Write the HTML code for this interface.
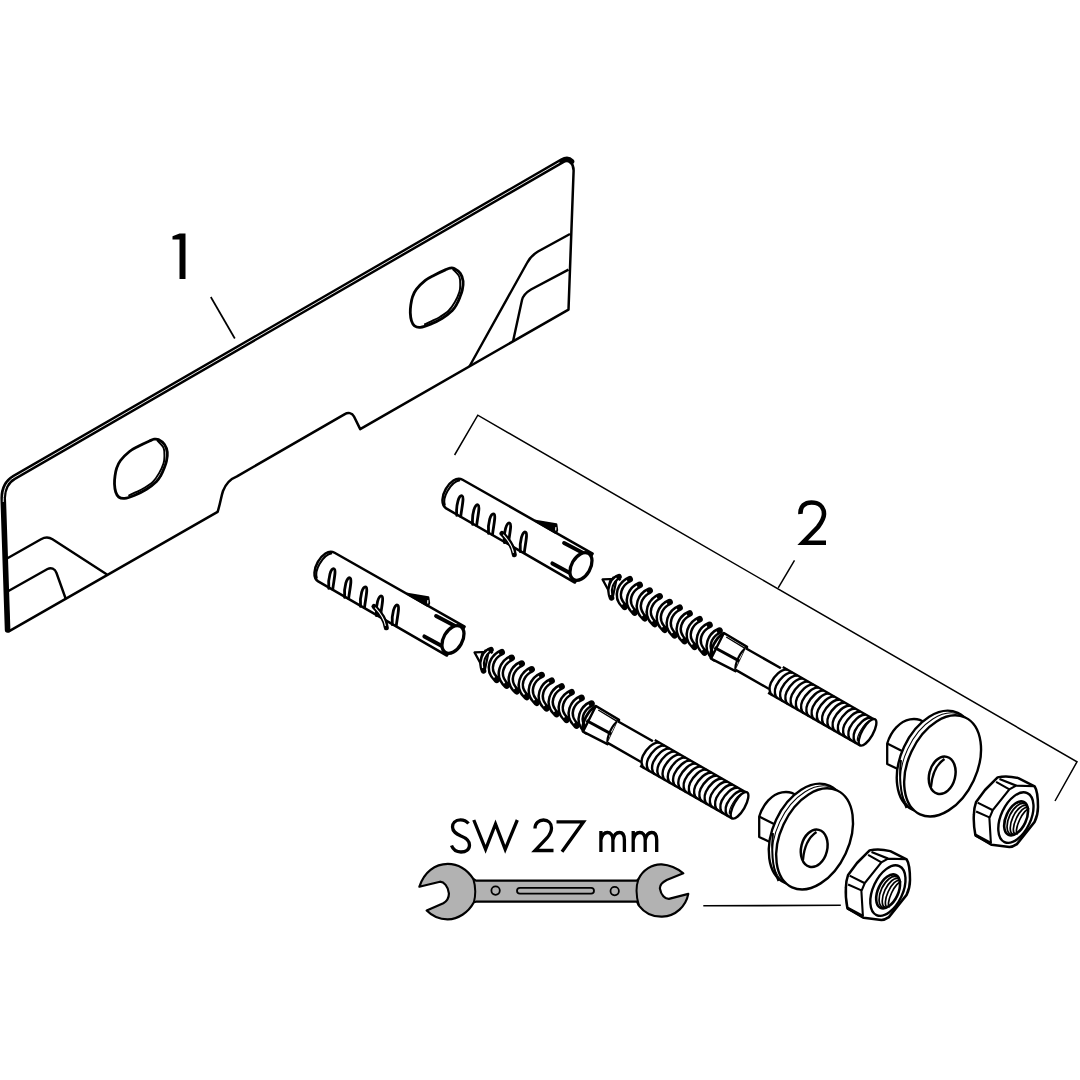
<!DOCTYPE html><html><head><meta charset="utf-8"><style>html,body{margin:0;padding:0;background:#fff;}svg{display:block;}</style></head><body><svg width="1080" height="1080" viewBox="0 0 1080 1080"><path d="M8.8,631.3 L217.6,511.9 C220.5,503 221,497 223,491 C226,483 230,479 237,476.3 L344.4,414.3 C348,412.2 352,412.5 354,416.5 L360.2,429.1 L568.5,309.6 L573.6,171 C573.8,164 569.5,158.8 563.5,159.6 L14,477 C6.5,481.5 2.5,489 2.5,497.5 Z" fill="#fff" stroke="#000" stroke-width="2.5" stroke-linejoin="round"/><path d="M7.6,630 L3.2,498 C3.2,489 6.5,482 14,477.5 L562,161 C565.5,159 569,159 571.5,161.5" fill="none" stroke="#000" stroke-width="5.6" stroke-linecap="round"/><path d="M3.25,502 C3.2,489 6.5,482 14,477.5 L559.5,162.4" fill="none" stroke="#fff" stroke-width="0.9"/><path d="M7,558.5 L41,539.2 C44.5,537.3 49,537 52.5,539.3 L107,574.5" fill="none" stroke="#000" stroke-width="2.4"/><path d="M8,591.3 L47.5,569 C51,567.2 55,568.5 56.5,573 L65.8,599" fill="none" stroke="#000" stroke-width="2.4"/><path d="M570,234 L538,251.5 C533,254.5 529.5,258 527,263 L469.4,366.5" fill="none" stroke="#000" stroke-width="2.4"/><path d="M568.5,269.6 L531,289.5 C526,292.5 523,296 522,300 L513,341.5" fill="none" stroke="#000" stroke-width="2.4"/><g transform="translate(141,469)"><path d="M17.4,-29.4 C19.12,-28.52 22.02,-26.6 23.5,-24.5 C24.98,-22.4 25.97,-19.55 26.3,-16.8 C26.63,-14.05 26.05,-10.72 25.5,-8 C24.95,-5.28 23.95,-2.92 23,-0.5 C22.05,1.92 21.05,4.33 19.8,6.5 C18.55,8.67 17.88,10.2 15.5,12.5 C13.12,14.8 9.13,18.02 5.5,20.3 C1.87,22.58 -2.63,24.68 -6.3,26.2 C-9.97,27.72 -13.83,29.1 -16.5,29.4 C-19.17,29.7 -20.83,29.07 -22.3,28 C-23.77,26.93 -24.6,25.17 -25.3,23 C-26,20.83 -26.38,17.67 -26.5,15 C-26.62,12.33 -26.37,9.67 -26,7 C-25.63,4.33 -25.22,1.58 -24.3,-1 C-23.38,-3.58 -22.63,-5.75 -20.5,-8.5 C-18.37,-11.25 -14.48,-15.13 -11.5,-17.5 C-8.52,-19.87 -5.93,-20.95 -2.6,-22.7 C0.73,-24.45 5.87,-26.82 8.5,-28 C11.13,-29.18 11.72,-29.57 13.2,-29.8 C14.68,-30.03 15.68,-30.28 17.4,-29.4 Z" fill="none" stroke="#000" stroke-width="2.8"/><path d="M16.46,-28.32 C17.47,-27.12 21.41,-23.78 22.56,-21.12 C23.72,-18.45 23.39,-14.92 23.39,-12.36 C23.39,-9.8 23.44,-8.51 22.56,-5.77 C21.68,-3.02 19.91,1.01 18.11,4.12 C16.32,7.23 14.3,10.39 11.8,12.88 C9.3,15.36 5.92,17.34 3.1,19.05 C0.29,20.77 -2.57,21.97 -5.07,23.18 C-7.57,24.38 -10.76,25.75 -11.9,26.27" fill="none" stroke="#000" stroke-width="1.9" stroke-linecap="round"/></g><g transform="translate(436.8,297.9)"><path d="M17.4,-29.4 C19.12,-28.52 22.02,-26.6 23.5,-24.5 C24.98,-22.4 25.97,-19.55 26.3,-16.8 C26.63,-14.05 26.05,-10.72 25.5,-8 C24.95,-5.28 23.95,-2.92 23,-0.5 C22.05,1.92 21.05,4.33 19.8,6.5 C18.55,8.67 17.88,10.2 15.5,12.5 C13.12,14.8 9.13,18.02 5.5,20.3 C1.87,22.58 -2.63,24.68 -6.3,26.2 C-9.97,27.72 -13.83,29.1 -16.5,29.4 C-19.17,29.7 -20.83,29.07 -22.3,28 C-23.77,26.93 -24.6,25.17 -25.3,23 C-26,20.83 -26.38,17.67 -26.5,15 C-26.62,12.33 -26.37,9.67 -26,7 C-25.63,4.33 -25.22,1.58 -24.3,-1 C-23.38,-3.58 -22.63,-5.75 -20.5,-8.5 C-18.37,-11.25 -14.48,-15.13 -11.5,-17.5 C-8.52,-19.87 -5.93,-20.95 -2.6,-22.7 C0.73,-24.45 5.87,-26.82 8.5,-28 C11.13,-29.18 11.72,-29.57 13.2,-29.8 C14.68,-30.03 15.68,-30.28 17.4,-29.4 Z" fill="none" stroke="#000" stroke-width="2.8"/><path d="M16.46,-28.32 C17.47,-27.12 21.41,-23.78 22.56,-21.12 C23.72,-18.45 23.39,-14.92 23.39,-12.36 C23.39,-9.8 23.44,-8.51 22.56,-5.77 C21.68,-3.02 19.91,1.01 18.11,4.12 C16.32,7.23 14.3,10.39 11.8,12.88 C9.3,15.36 5.92,17.34 3.1,19.05 C0.29,20.77 -2.57,21.97 -5.07,23.18 C-7.57,24.38 -10.76,25.75 -11.9,26.27" fill="none" stroke="#000" stroke-width="1.9" stroke-linecap="round"/></g><path d="M210.8,297 L234.8,338.5" stroke="#000" stroke-width="1.7" fill="none"/><path d="M172.5,236.3 L179.5,233.6 L185.5,233.6 L185.5,279 L179.5,279 L179.5,239.6 L172.5,239.6 Z" fill="#000"/><path d="M800.5,514 C800,506 805,502.5 811.5,502.5 C818,502.5 824,506 824,514 C824,519 821,523 818,527 L802.8,542.7 L826,542.7" fill="none" stroke="#000" stroke-width="4.6" stroke-linejoin="miter"/><path d="M454.6,455 L477.8,415.2 L1077,761.8 L1055,801" fill="none" stroke="#000" stroke-width="1.5"/><path d="M778.2,587.8 L794.5,560.3" fill="none" stroke="#000" stroke-width="1.5"/><path d="M703.3,905.8 L840.8,905.3" fill="none" stroke="#000" stroke-width="1.6"/><g transform="translate(-128,73)"><g transform="translate(580.3,567) rotate(29.8)"><path d="M-145.5,-17.2 L4,-17.8 L3,16.2 L-145.5,15.8 C-152.5,15.5 -155.5,6 -155.5,-1 C-155.5,-9 -152.5,-17 -145.5,-17.2 Z" fill="#fff" stroke="#000" stroke-width="2.5" stroke-linejoin="round"/><path d="M-147.5,-15.5 C-152,-12 -153,-4 -153,0 C-153,5 -151.5,11 -148,14" fill="none" stroke="#000" stroke-width="2"/><path d="M-132.9,16.5 C-138.9,8 -141.4,-3 -137.9,-3 C-135.4,-3 -132.9,6 -128.9,15.5" fill="none" stroke="#000" stroke-width="2.8" stroke-linecap="round"/><path d="M-114.6,16.5 C-120.6,8 -123.1,-3 -119.6,-3 C-117.1,-3 -114.6,6 -110.6,15.5" fill="none" stroke="#000" stroke-width="2.8" stroke-linecap="round"/><path d="M-96.3,16.5 C-102.3,8 -104.8,-3 -101.3,-3 C-98.8,-3 -96.3,6 -92.3,15.5" fill="none" stroke="#000" stroke-width="2.8" stroke-linecap="round"/><path d="M-78,16.5 C-84,8 -86.5,-3 -83,-3 C-80.5,-3 -78,6 -74,15.5" fill="none" stroke="#000" stroke-width="2.8" stroke-linecap="round"/><path d="M-59.7,16.5 C-65.7,8 -68.2,-3 -64.7,-3 C-62.2,-3 -59.7,6 -55.7,15.5" fill="none" stroke="#000" stroke-width="2.8" stroke-linecap="round"/><path d="M-84.7,9.8 C-76,12 -68,16 -63.3,22.2" fill="none" stroke="#000" stroke-width="5" stroke-linecap="round"/><path d="M-83,10.3 C-76,12.5 -69,16 -65,21" fill="none" stroke="#fff" stroke-width="1.1"/><path d="M-62,-17.8 L-42,-25 L-38.5,-20.5 L-38,-17.5 Z" fill="#000" stroke="#000" stroke-width="2.2" stroke-linejoin="round"/><path d="M-41,-22.5 L-39.5,-19.5" stroke="#fff" stroke-width="1.2"/><path d="M-26,-12.8 L-4,-13.6" stroke="#000" stroke-width="4" stroke-linecap="round"/><path d="M-26,10.8 L-5,10.4" stroke="#000" stroke-width="4" stroke-linecap="round"/><ellipse cx="0.3" cy="-0.8" rx="9.4" ry="15" fill="#fff" stroke="#000" stroke-width="3.3"/></g><g transform="translate(602.5,579.4) rotate(29.8)"><path d="M10,-12 L130,-13 L130,13.5 L12,13 Z" fill="#fff" stroke="none"/><path d="M0,0 L12,-7.5 L18,11 Z" fill="#fff" stroke="#000" stroke-width="2.2" stroke-linejoin="round"/><path d="M6,-4 C11,-4 15,6 18,11 L14,12 C10,8 7,3 6,-4 Z" fill="#000"/><path d="M8,-6 C10,-9 14,-9 16,-8" fill="none" stroke="#000" stroke-width="2.4"/><path d="M23.5,-13.7 C18,-6.5 17,9 32.9,12.7" fill="none" stroke="#000" stroke-width="6.6" stroke-linecap="round"/><path d="M23.5,-13.7 C18,-6.5 17,9 32.9,12.7" fill="none" stroke="#fff" stroke-width="1.6" pathLength="100" stroke-dasharray="0 9 82 9"/><path d="M35,-13.7 C29.5,-6.5 28.5,9 44.4,12.7" fill="none" stroke="#000" stroke-width="6.6" stroke-linecap="round"/><path d="M35,-13.7 C29.5,-6.5 28.5,9 44.4,12.7" fill="none" stroke="#fff" stroke-width="1.6" pathLength="100" stroke-dasharray="0 9 82 9"/><path d="M46.5,-13.7 C41,-6.5 40,9 55.9,12.7" fill="none" stroke="#000" stroke-width="6.6" stroke-linecap="round"/><path d="M46.5,-13.7 C41,-6.5 40,9 55.9,12.7" fill="none" stroke="#fff" stroke-width="1.6" pathLength="100" stroke-dasharray="0 9 82 9"/><path d="M58,-13.7 C52.5,-6.5 51.5,9 67.4,12.7" fill="none" stroke="#000" stroke-width="6.6" stroke-linecap="round"/><path d="M58,-13.7 C52.5,-6.5 51.5,9 67.4,12.7" fill="none" stroke="#fff" stroke-width="1.6" pathLength="100" stroke-dasharray="0 9 82 9"/><path d="M69.5,-13.7 C64,-6.5 63,9 78.9,12.7" fill="none" stroke="#000" stroke-width="6.6" stroke-linecap="round"/><path d="M69.5,-13.7 C64,-6.5 63,9 78.9,12.7" fill="none" stroke="#fff" stroke-width="1.6" pathLength="100" stroke-dasharray="0 9 82 9"/><path d="M81,-13.7 C75.5,-6.5 74.5,9 90.4,12.7" fill="none" stroke="#000" stroke-width="6.6" stroke-linecap="round"/><path d="M81,-13.7 C75.5,-6.5 74.5,9 90.4,12.7" fill="none" stroke="#fff" stroke-width="1.6" pathLength="100" stroke-dasharray="0 9 82 9"/><path d="M92.5,-13.7 C87,-6.5 86,9 101.9,12.7" fill="none" stroke="#000" stroke-width="6.6" stroke-linecap="round"/><path d="M92.5,-13.7 C87,-6.5 86,9 101.9,12.7" fill="none" stroke="#fff" stroke-width="1.6" pathLength="100" stroke-dasharray="0 9 82 9"/><path d="M104,-13.7 C98.5,-6.5 97.5,9 113.4,12.7" fill="none" stroke="#000" stroke-width="6.6" stroke-linecap="round"/><path d="M104,-13.7 C98.5,-6.5 97.5,9 113.4,12.7" fill="none" stroke="#fff" stroke-width="1.6" pathLength="100" stroke-dasharray="0 9 82 9"/><path d="M115.5,-13.7 C110,-6.5 109,9 124.9,12.7" fill="none" stroke="#000" stroke-width="6.6" stroke-linecap="round"/><path d="M115.5,-13.7 C110,-6.5 109,9 124.9,12.7" fill="none" stroke="#fff" stroke-width="1.6" pathLength="100" stroke-dasharray="0 9 82 9"/><path d="M127,-13.7 C121.5,-6.5 120.5,9 136.4,12.7" fill="none" stroke="#000" stroke-width="6.6" stroke-linecap="round"/><path d="M127,-13.7 C121.5,-6.5 120.5,9 136.4,12.7" fill="none" stroke="#fff" stroke-width="1.6" pathLength="100" stroke-dasharray="0 9 82 9"/><path d="M13,-10.5 C9,-6 8.5,5 17,11.5" fill="none" stroke="#000" stroke-width="5.6" stroke-linecap="round"/><path d="M13,-10.5 C9,-6 8.5,5 17,11.5" fill="none" stroke="#fff" stroke-width="1.3" pathLength="100" stroke-dasharray="0 12 76 12"/><path d="M132,-13.8 L159,-13.3 L161,13.5 L133.5,14.8 Z" fill="#fff" stroke="#000" stroke-width="2.4" stroke-linejoin="round"/><path d="M131,3.5 L159.5,2.8" stroke="#000" stroke-width="3"/><path d="M136,-11.5 L158,-11" stroke="#000" stroke-width="1.3"/><path d="M132,-13.8 C127.5,-6 127.5,8 133.5,14.8" fill="none" stroke="#000" stroke-width="2.8"/><path d="M159,-13.3 C155.5,-6 156,7 161,13.5" fill="none" stroke="#000" stroke-width="2.2"/><path d="M158.5,-11.5 L201,-11.5 L201,12.3 L160.5,12.3" fill="#fff" stroke="#000" stroke-width="2.4"/><path d="M199,-13.5 L306,-13.5 L306,16 L199,16 Z" fill="#fff" stroke="none"/><path d="M200,-13.5 L306,-13.5 M200,16 L306,16" fill="none" stroke="#000" stroke-width="2.4"/><path d="M205,-13.3 C199.5,-11.5 197,-1 197.5,6 C198,11.5 201.5,16 205,16" fill="none" stroke="#000" stroke-width="2.4"/><path d="M211.05,-13.3 C205.55,-11.5 203.05,-1 203.55,6 C204.05,11.5 207.55,16 211.05,16" fill="none" stroke="#000" stroke-width="2.4"/><path d="M217.1,-13.3 C211.6,-11.5 209.1,-1 209.6,6 C210.1,11.5 213.6,16 217.1,16" fill="none" stroke="#000" stroke-width="2.4"/><path d="M223.15,-13.3 C217.65,-11.5 215.15,-1 215.65,6 C216.15,11.5 219.65,16 223.15,16" fill="none" stroke="#000" stroke-width="2.4"/><path d="M229.2,-13.3 C223.7,-11.5 221.2,-1 221.7,6 C222.2,11.5 225.7,16 229.2,16" fill="none" stroke="#000" stroke-width="2.4"/><path d="M235.25,-13.3 C229.75,-11.5 227.25,-1 227.75,6 C228.25,11.5 231.75,16 235.25,16" fill="none" stroke="#000" stroke-width="2.4"/><path d="M241.3,-13.3 C235.8,-11.5 233.3,-1 233.8,6 C234.3,11.5 237.8,16 241.3,16" fill="none" stroke="#000" stroke-width="2.4"/><path d="M247.35,-13.3 C241.85,-11.5 239.35,-1 239.85,6 C240.35,11.5 243.85,16 247.35,16" fill="none" stroke="#000" stroke-width="2.4"/><path d="M253.4,-13.3 C247.9,-11.5 245.4,-1 245.9,6 C246.4,11.5 249.9,16 253.4,16" fill="none" stroke="#000" stroke-width="2.4"/><path d="M259.45,-13.3 C253.95,-11.5 251.45,-1 251.95,6 C252.45,11.5 255.95,16 259.45,16" fill="none" stroke="#000" stroke-width="2.4"/><path d="M265.5,-13.3 C260,-11.5 257.5,-1 258,6 C258.5,11.5 262,16 265.5,16" fill="none" stroke="#000" stroke-width="2.4"/><path d="M271.55,-13.3 C266.05,-11.5 263.55,-1 264.05,6 C264.55,11.5 268.05,16 271.55,16" fill="none" stroke="#000" stroke-width="2.4"/><path d="M277.6,-13.3 C272.1,-11.5 269.6,-1 270.1,6 C270.6,11.5 274.1,16 277.6,16" fill="none" stroke="#000" stroke-width="2.4"/><path d="M283.65,-13.3 C278.15,-11.5 275.65,-1 276.15,6 C276.65,11.5 280.15,16 283.65,16" fill="none" stroke="#000" stroke-width="2.4"/><path d="M289.7,-13.3 C284.2,-11.5 281.7,-1 282.2,6 C282.7,11.5 286.2,16 289.7,16" fill="none" stroke="#000" stroke-width="2.4"/><path d="M295.75,-13.3 C290.25,-11.5 287.75,-1 288.25,6 C288.75,11.5 292.25,16 295.75,16" fill="none" stroke="#000" stroke-width="2.4"/><path d="M301.8,-13.3 C296.3,-11.5 293.8,-1 294.3,6 C294.8,11.5 298.3,16 301.8,16" fill="none" stroke="#000" stroke-width="2.4"/><ellipse cx="306" cy="1" rx="5.5" ry="15" fill="#fff" stroke="#000" stroke-width="2.4"/><path d="M302,-10 C298.5,-5 298,9 301.5,13.5" fill="none" stroke="#000" stroke-width="1.2"/></g><path d="M887.2,743.5 C891,731 900,721 910,719.3 C916,718.5 921,719.5 924,722.5 L932,740 L902,771 L887.2,764 Z" fill="#fff" stroke="#000" stroke-width="2.3" stroke-linejoin="round"/><path d="M887.2,743.5 L902,751" fill="none" stroke="#000" stroke-width="2.2"/><ellipse cx="935.2" cy="761.3" rx="34.3" ry="53.4" transform="rotate(25 935.2 761.3)" fill="#fff" stroke="#000" stroke-width="2.4"/><ellipse cx="938.8" cy="763.5" rx="34.3" ry="53.4" transform="rotate(25 938.8 763.5)" fill="none" stroke="#000" stroke-width="1"/><ellipse cx="942.6" cy="765.9" rx="34.3" ry="53.4" transform="rotate(25 942.6 765.9)" fill="#fff" stroke="#000" stroke-width="2.4"/><path d="M901,760 C899,775 900,795 906.5,808" fill="none" stroke="#000" stroke-width="2"/><ellipse cx="942.2" cy="775.3" rx="13" ry="19" transform="rotate(14 942.2 775.3)" fill="#fff" stroke="#000" stroke-width="2.5"/><path d="M944.5,759 C937,764 932,774 931,787" fill="none" stroke="#000" stroke-width="2.3"/><path d="M997.6,777.4 C1005,775.5 1012,776.5 1018.3,778.1 L1034.6,786.3 C1037,790 1038,800 1038,807 C1038,812 1036.5,818 1034.6,821.9 L1016.9,844.1 C1014,846 1012,847 1009.4,847 L991.7,844.8 L975.4,835.2 C974,828 973.5,820 973.9,814.4 C974,809 975,805 976.1,801.9 L985,790 Z" fill="#fff" stroke="#000" stroke-width="2.5" stroke-linejoin="round"/><path d="M1016.1,785.6 L1009.4,789.3 L992.8,810 L989.4,818.1 L990.9,843.3 M977.6,802.6 L992.4,810 M976.1,811.5 L989.4,817.4 M996.1,781.9 L1009.4,789.3 M999.5,779 L1016.1,785.6 L1034.6,786.3" fill="none" stroke="#000" stroke-width="2.1"/><path d="M975.4,835.2 L990.9,843.3" fill="none" stroke="#000" stroke-width="3.2"/><ellipse cx="1015.9" cy="817.6" rx="14.8" ry="27" transform="rotate(25 1015.9 817.6)" fill="#fff" stroke="#000" stroke-width="2.4"/><ellipse cx="1016.1" cy="818.4" rx="10.1" ry="18.1" transform="rotate(25 1016.1 818.4)" fill="#fff" stroke="#000" stroke-width="2.6"/><g transform="rotate(25 1016.1 818.4)"><path d="M1017.9,801.6 A8.8,16.8 0 0 0 1017.9,835.2" fill="none" stroke="#000" stroke-width="1.7"/><path d="M1020,802.6 A7.3,15.8 0 0 0 1020,834.2" fill="none" stroke="#000" stroke-width="1.7"/><path d="M1022.1,803.6 A5.8,14.8 0 0 0 1022.1,833.2" fill="none" stroke="#000" stroke-width="1.7"/><path d="M1024.2,804.6 A4.3,13.8 0 0 0 1024.2,832.2" fill="none" stroke="#000" stroke-width="1.7"/></g></g><g><g transform="translate(580.3,567) rotate(29.8)"><path d="M-145.5,-17.2 L4,-17.8 L3,16.2 L-145.5,15.8 C-152.5,15.5 -155.5,6 -155.5,-1 C-155.5,-9 -152.5,-17 -145.5,-17.2 Z" fill="#fff" stroke="#000" stroke-width="2.5" stroke-linejoin="round"/><path d="M-147.5,-15.5 C-152,-12 -153,-4 -153,0 C-153,5 -151.5,11 -148,14" fill="none" stroke="#000" stroke-width="2"/><path d="M-132.9,16.5 C-138.9,8 -141.4,-3 -137.9,-3 C-135.4,-3 -132.9,6 -128.9,15.5" fill="none" stroke="#000" stroke-width="2.8" stroke-linecap="round"/><path d="M-114.6,16.5 C-120.6,8 -123.1,-3 -119.6,-3 C-117.1,-3 -114.6,6 -110.6,15.5" fill="none" stroke="#000" stroke-width="2.8" stroke-linecap="round"/><path d="M-96.3,16.5 C-102.3,8 -104.8,-3 -101.3,-3 C-98.8,-3 -96.3,6 -92.3,15.5" fill="none" stroke="#000" stroke-width="2.8" stroke-linecap="round"/><path d="M-78,16.5 C-84,8 -86.5,-3 -83,-3 C-80.5,-3 -78,6 -74,15.5" fill="none" stroke="#000" stroke-width="2.8" stroke-linecap="round"/><path d="M-59.7,16.5 C-65.7,8 -68.2,-3 -64.7,-3 C-62.2,-3 -59.7,6 -55.7,15.5" fill="none" stroke="#000" stroke-width="2.8" stroke-linecap="round"/><path d="M-84.7,9.8 C-76,12 -68,16 -63.3,22.2" fill="none" stroke="#000" stroke-width="5" stroke-linecap="round"/><path d="M-83,10.3 C-76,12.5 -69,16 -65,21" fill="none" stroke="#fff" stroke-width="1.1"/><path d="M-62,-17.8 L-42,-25 L-38.5,-20.5 L-38,-17.5 Z" fill="#000" stroke="#000" stroke-width="2.2" stroke-linejoin="round"/><path d="M-41,-22.5 L-39.5,-19.5" stroke="#fff" stroke-width="1.2"/><path d="M-26,-12.8 L-4,-13.6" stroke="#000" stroke-width="4" stroke-linecap="round"/><path d="M-26,10.8 L-5,10.4" stroke="#000" stroke-width="4" stroke-linecap="round"/><ellipse cx="0.3" cy="-0.8" rx="9.4" ry="15" fill="#fff" stroke="#000" stroke-width="3.3"/></g><g transform="translate(602.5,579.4) rotate(29.8)"><path d="M10,-12 L130,-13 L130,13.5 L12,13 Z" fill="#fff" stroke="none"/><path d="M0,0 L12,-7.5 L18,11 Z" fill="#fff" stroke="#000" stroke-width="2.2" stroke-linejoin="round"/><path d="M6,-4 C11,-4 15,6 18,11 L14,12 C10,8 7,3 6,-4 Z" fill="#000"/><path d="M8,-6 C10,-9 14,-9 16,-8" fill="none" stroke="#000" stroke-width="2.4"/><path d="M23.5,-13.7 C18,-6.5 17,9 32.9,12.7" fill="none" stroke="#000" stroke-width="6.6" stroke-linecap="round"/><path d="M23.5,-13.7 C18,-6.5 17,9 32.9,12.7" fill="none" stroke="#fff" stroke-width="1.6" pathLength="100" stroke-dasharray="0 9 82 9"/><path d="M35,-13.7 C29.5,-6.5 28.5,9 44.4,12.7" fill="none" stroke="#000" stroke-width="6.6" stroke-linecap="round"/><path d="M35,-13.7 C29.5,-6.5 28.5,9 44.4,12.7" fill="none" stroke="#fff" stroke-width="1.6" pathLength="100" stroke-dasharray="0 9 82 9"/><path d="M46.5,-13.7 C41,-6.5 40,9 55.9,12.7" fill="none" stroke="#000" stroke-width="6.6" stroke-linecap="round"/><path d="M46.5,-13.7 C41,-6.5 40,9 55.9,12.7" fill="none" stroke="#fff" stroke-width="1.6" pathLength="100" stroke-dasharray="0 9 82 9"/><path d="M58,-13.7 C52.5,-6.5 51.5,9 67.4,12.7" fill="none" stroke="#000" stroke-width="6.6" stroke-linecap="round"/><path d="M58,-13.7 C52.5,-6.5 51.5,9 67.4,12.7" fill="none" stroke="#fff" stroke-width="1.6" pathLength="100" stroke-dasharray="0 9 82 9"/><path d="M69.5,-13.7 C64,-6.5 63,9 78.9,12.7" fill="none" stroke="#000" stroke-width="6.6" stroke-linecap="round"/><path d="M69.5,-13.7 C64,-6.5 63,9 78.9,12.7" fill="none" stroke="#fff" stroke-width="1.6" pathLength="100" stroke-dasharray="0 9 82 9"/><path d="M81,-13.7 C75.5,-6.5 74.5,9 90.4,12.7" fill="none" stroke="#000" stroke-width="6.6" stroke-linecap="round"/><path d="M81,-13.7 C75.5,-6.5 74.5,9 90.4,12.7" fill="none" stroke="#fff" stroke-width="1.6" pathLength="100" stroke-dasharray="0 9 82 9"/><path d="M92.5,-13.7 C87,-6.5 86,9 101.9,12.7" fill="none" stroke="#000" stroke-width="6.6" stroke-linecap="round"/><path d="M92.5,-13.7 C87,-6.5 86,9 101.9,12.7" fill="none" stroke="#fff" stroke-width="1.6" pathLength="100" stroke-dasharray="0 9 82 9"/><path d="M104,-13.7 C98.5,-6.5 97.5,9 113.4,12.7" fill="none" stroke="#000" stroke-width="6.6" stroke-linecap="round"/><path d="M104,-13.7 C98.5,-6.5 97.5,9 113.4,12.7" fill="none" stroke="#fff" stroke-width="1.6" pathLength="100" stroke-dasharray="0 9 82 9"/><path d="M115.5,-13.7 C110,-6.5 109,9 124.9,12.7" fill="none" stroke="#000" stroke-width="6.6" stroke-linecap="round"/><path d="M115.5,-13.7 C110,-6.5 109,9 124.9,12.7" fill="none" stroke="#fff" stroke-width="1.6" pathLength="100" stroke-dasharray="0 9 82 9"/><path d="M127,-13.7 C121.5,-6.5 120.5,9 136.4,12.7" fill="none" stroke="#000" stroke-width="6.6" stroke-linecap="round"/><path d="M127,-13.7 C121.5,-6.5 120.5,9 136.4,12.7" fill="none" stroke="#fff" stroke-width="1.6" pathLength="100" stroke-dasharray="0 9 82 9"/><path d="M13,-10.5 C9,-6 8.5,5 17,11.5" fill="none" stroke="#000" stroke-width="5.6" stroke-linecap="round"/><path d="M13,-10.5 C9,-6 8.5,5 17,11.5" fill="none" stroke="#fff" stroke-width="1.3" pathLength="100" stroke-dasharray="0 12 76 12"/><path d="M132,-13.8 L159,-13.3 L161,13.5 L133.5,14.8 Z" fill="#fff" stroke="#000" stroke-width="2.4" stroke-linejoin="round"/><path d="M131,3.5 L159.5,2.8" stroke="#000" stroke-width="3"/><path d="M136,-11.5 L158,-11" stroke="#000" stroke-width="1.3"/><path d="M132,-13.8 C127.5,-6 127.5,8 133.5,14.8" fill="none" stroke="#000" stroke-width="2.8"/><path d="M159,-13.3 C155.5,-6 156,7 161,13.5" fill="none" stroke="#000" stroke-width="2.2"/><path d="M158.5,-11.5 L201,-11.5 L201,12.3 L160.5,12.3" fill="#fff" stroke="#000" stroke-width="2.4"/><path d="M199,-13.5 L306,-13.5 L306,16 L199,16 Z" fill="#fff" stroke="none"/><path d="M200,-13.5 L306,-13.5 M200,16 L306,16" fill="none" stroke="#000" stroke-width="2.4"/><path d="M205,-13.3 C199.5,-11.5 197,-1 197.5,6 C198,11.5 201.5,16 205,16" fill="none" stroke="#000" stroke-width="2.4"/><path d="M211.05,-13.3 C205.55,-11.5 203.05,-1 203.55,6 C204.05,11.5 207.55,16 211.05,16" fill="none" stroke="#000" stroke-width="2.4"/><path d="M217.1,-13.3 C211.6,-11.5 209.1,-1 209.6,6 C210.1,11.5 213.6,16 217.1,16" fill="none" stroke="#000" stroke-width="2.4"/><path d="M223.15,-13.3 C217.65,-11.5 215.15,-1 215.65,6 C216.15,11.5 219.65,16 223.15,16" fill="none" stroke="#000" stroke-width="2.4"/><path d="M229.2,-13.3 C223.7,-11.5 221.2,-1 221.7,6 C222.2,11.5 225.7,16 229.2,16" fill="none" stroke="#000" stroke-width="2.4"/><path d="M235.25,-13.3 C229.75,-11.5 227.25,-1 227.75,6 C228.25,11.5 231.75,16 235.25,16" fill="none" stroke="#000" stroke-width="2.4"/><path d="M241.3,-13.3 C235.8,-11.5 233.3,-1 233.8,6 C234.3,11.5 237.8,16 241.3,16" fill="none" stroke="#000" stroke-width="2.4"/><path d="M247.35,-13.3 C241.85,-11.5 239.35,-1 239.85,6 C240.35,11.5 243.85,16 247.35,16" fill="none" stroke="#000" stroke-width="2.4"/><path d="M253.4,-13.3 C247.9,-11.5 245.4,-1 245.9,6 C246.4,11.5 249.9,16 253.4,16" fill="none" stroke="#000" stroke-width="2.4"/><path d="M259.45,-13.3 C253.95,-11.5 251.45,-1 251.95,6 C252.45,11.5 255.95,16 259.45,16" fill="none" stroke="#000" stroke-width="2.4"/><path d="M265.5,-13.3 C260,-11.5 257.5,-1 258,6 C258.5,11.5 262,16 265.5,16" fill="none" stroke="#000" stroke-width="2.4"/><path d="M271.55,-13.3 C266.05,-11.5 263.55,-1 264.05,6 C264.55,11.5 268.05,16 271.55,16" fill="none" stroke="#000" stroke-width="2.4"/><path d="M277.6,-13.3 C272.1,-11.5 269.6,-1 270.1,6 C270.6,11.5 274.1,16 277.6,16" fill="none" stroke="#000" stroke-width="2.4"/><path d="M283.65,-13.3 C278.15,-11.5 275.65,-1 276.15,6 C276.65,11.5 280.15,16 283.65,16" fill="none" stroke="#000" stroke-width="2.4"/><path d="M289.7,-13.3 C284.2,-11.5 281.7,-1 282.2,6 C282.7,11.5 286.2,16 289.7,16" fill="none" stroke="#000" stroke-width="2.4"/><path d="M295.75,-13.3 C290.25,-11.5 287.75,-1 288.25,6 C288.75,11.5 292.25,16 295.75,16" fill="none" stroke="#000" stroke-width="2.4"/><path d="M301.8,-13.3 C296.3,-11.5 293.8,-1 294.3,6 C294.8,11.5 298.3,16 301.8,16" fill="none" stroke="#000" stroke-width="2.4"/><ellipse cx="306" cy="1" rx="5.5" ry="15" fill="#fff" stroke="#000" stroke-width="2.4"/><path d="M302,-10 C298.5,-5 298,9 301.5,13.5" fill="none" stroke="#000" stroke-width="1.2"/></g><path d="M887.2,743.5 C891,731 900,721 910,719.3 C916,718.5 921,719.5 924,722.5 L932,740 L902,771 L887.2,764 Z" fill="#fff" stroke="#000" stroke-width="2.3" stroke-linejoin="round"/><path d="M887.2,743.5 L902,751" fill="none" stroke="#000" stroke-width="2.2"/><ellipse cx="935.2" cy="761.3" rx="34.3" ry="53.4" transform="rotate(25 935.2 761.3)" fill="#fff" stroke="#000" stroke-width="2.4"/><ellipse cx="938.8" cy="763.5" rx="34.3" ry="53.4" transform="rotate(25 938.8 763.5)" fill="none" stroke="#000" stroke-width="1"/><ellipse cx="942.6" cy="765.9" rx="34.3" ry="53.4" transform="rotate(25 942.6 765.9)" fill="#fff" stroke="#000" stroke-width="2.4"/><path d="M901,760 C899,775 900,795 906.5,808" fill="none" stroke="#000" stroke-width="2"/><ellipse cx="942.2" cy="775.3" rx="13" ry="19" transform="rotate(14 942.2 775.3)" fill="#fff" stroke="#000" stroke-width="2.5"/><path d="M944.5,759 C937,764 932,774 931,787" fill="none" stroke="#000" stroke-width="2.3"/><path d="M997.6,777.4 C1005,775.5 1012,776.5 1018.3,778.1 L1034.6,786.3 C1037,790 1038,800 1038,807 C1038,812 1036.5,818 1034.6,821.9 L1016.9,844.1 C1014,846 1012,847 1009.4,847 L991.7,844.8 L975.4,835.2 C974,828 973.5,820 973.9,814.4 C974,809 975,805 976.1,801.9 L985,790 Z" fill="#fff" stroke="#000" stroke-width="2.5" stroke-linejoin="round"/><path d="M1016.1,785.6 L1009.4,789.3 L992.8,810 L989.4,818.1 L990.9,843.3 M977.6,802.6 L992.4,810 M976.1,811.5 L989.4,817.4 M996.1,781.9 L1009.4,789.3 M999.5,779 L1016.1,785.6 L1034.6,786.3" fill="none" stroke="#000" stroke-width="2.1"/><path d="M975.4,835.2 L990.9,843.3" fill="none" stroke="#000" stroke-width="3.2"/><ellipse cx="1015.9" cy="817.6" rx="14.8" ry="27" transform="rotate(25 1015.9 817.6)" fill="#fff" stroke="#000" stroke-width="2.4"/><ellipse cx="1016.1" cy="818.4" rx="10.1" ry="18.1" transform="rotate(25 1016.1 818.4)" fill="#fff" stroke="#000" stroke-width="2.6"/><g transform="rotate(25 1016.1 818.4)"><path d="M1017.9,801.6 A8.8,16.8 0 0 0 1017.9,835.2" fill="none" stroke="#000" stroke-width="1.7"/><path d="M1020,802.6 A7.3,15.8 0 0 0 1020,834.2" fill="none" stroke="#000" stroke-width="1.7"/><path d="M1022.1,803.6 A5.8,14.8 0 0 0 1022.1,833.2" fill="none" stroke="#000" stroke-width="1.7"/><path d="M1024.2,804.6 A4.3,13.8 0 0 0 1024.2,832.2" fill="none" stroke="#000" stroke-width="1.7"/></g></g><path d="M419.4,886.7 C424,872 435,864 447.8,863.9 C459,864 468,871 473.3,878.9 L476,880.6 L637,880.6 L638.5,879 C643,870 652,864 661.7,864.4 C670,865 678,869 683.3,873.3 L666.7,880 C661,883 659.5,886 660,888.9 C661,895 665,899 668.9,898.9 L688.3,893.9 C686,906 676,916 662.2,916.7 C651,917 643,911 638.9,905.6 L637,901.7 L476,901.7 L473.9,902.2 C468,913 458,919 447.8,919.4 C439,919.5 431,915 426.7,910.6 L443.3,903.3 C447,901 449,897 448.9,893.3 C448,886 444,882 440,881.7 Z" fill="#b2b2b2" stroke="#000" stroke-width="2.2" stroke-linejoin="round"/><path d="M473.3,878.9 C475.5,886 475.5,896 473.9,902.2 M638.5,879 C636,886 636,896 638.9,905.6" fill="none" stroke="#000" stroke-width="2"/><circle cx="495.6" cy="890.6" r="4.2" fill="#b2b2b2" stroke="#000" stroke-width="1.8"/><circle cx="614.7" cy="891.1" r="4.2" fill="#b2b2b2" stroke="#000" stroke-width="1.8"/><rect x="517" y="887.8" width="77" height="5.8" rx="2.9" fill="#b2b2b2" stroke="#000" stroke-width="1.8"/><path d="M468.5,823.5 C466,820.5 463,819.8 460.5,819.8 C455,819.8 452.5,823.5 452.5,827 C452.5,832 457,834 461,836 C466,838 469.5,840.5 469.5,845 C469.5,849.5 466,852 461,852 C456.5,852 453,849.5 451.5,845.5 M473.8,820 L485.6,849.3 L495.5,824 L505.2,849.3 L517.3,820 M535,828.5 C535,823 539,820 543.5,820 C548,820 551.5,823 551.5,828 C551.5,832 549.5,835 547,838 L535,850.5 L553.5,850.5 M556.5,821.8 L583.5,821.8 L562,851.8 M600.9,831 L600.9,852 M600.9,840 C601.9,835 604.4,832.5 607.4,832.5 C610.4,832.5 612.9,835 612.9,840 L612.9,852 M612.9,840 C613.9,835 616.4,832.5 619.4,832.5 C622.4,832.5 624.4,835 624.4,840 L624.4,852 M633.2,831 L633.2,852 M633.2,840 C634.2,835 636.7,832.5 639.7,832.5 C642.7,832.5 645.2,835 645.2,840 L645.2,852 M645.2,840 C646.2,835 648.7,832.5 651.7,832.5 C654.7,832.5 656.7,835 656.7,840 L656.7,852" fill="none" stroke="#000" stroke-width="3.3" stroke-linejoin="miter"/></svg></body></html>
